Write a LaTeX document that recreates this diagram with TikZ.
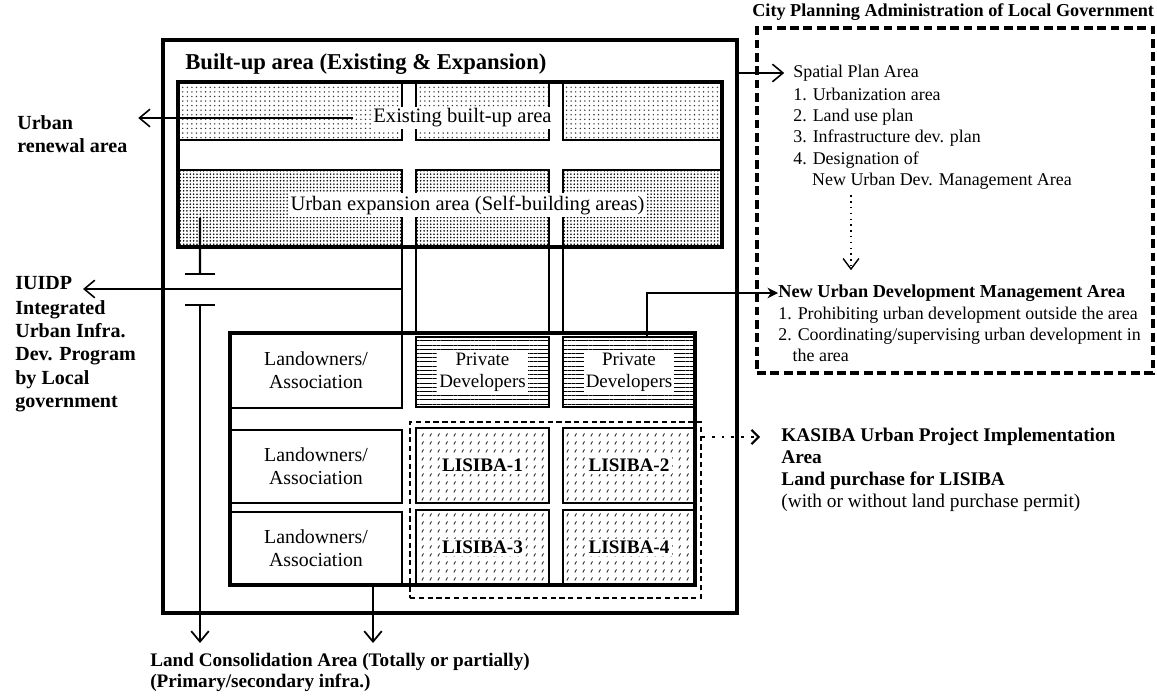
\documentclass[tikz,border=0pt]{standalone}
\usepackage{fontspec}
\setmainfont{Liberation Serif}
\usepackage{tikz}
\usetikzlibrary{arrows.meta, positioning, patterns.meta}

\tikzdeclarepattern{
  name=ticks,
  type=uncolored,
  bottom left={(0pt,0pt)},
  top right={(4.6pt,4.6pt)},
  tile size={(4.6pt,4.6pt)},
  code={\draw[line width=.6pt] (1.2pt,1pt) -- (2.2pt,2.9pt);}
}

\begin{document}
\begin{tikzpicture}[
  frame/.style={draw, line width=1.9pt, inner sep=0pt, outer sep=0pt},
  blk/.style={draw, line width=1.1pt, inner sep=0pt, outer sep=0pt},
  cell/.style={draw, line width=.9pt, inner sep=0pt, outer sep=0pt},
  road/.style={line width=1.4pt},
  oldarea/.style={blk, pattern={Dots[distance=2.6pt,radius=.45pt]}, pattern color=black!80},
  newarea/.style={blk, pattern={Dots[distance=1.9pt,radius=.5pt]}},
  devarea/.style={cell, pattern={Lines[distance=2.4pt,line width=.45pt]}},
  lisarea/.style={cell, pattern=ticks, pattern color=black!80},
  plate/.style={fill=white, inner sep=1.2pt, align=center, font=\fontsize{11.7}{13}\selectfont},
  lbl/.style={inner sep=0pt, align=left, font=\fontsize{11.4}{13.3}\selectfont\bfseries},
  txt/.style={inner sep=0pt, align=left, font=\fontsize{10.2}{12.2}\selectfont},
  arr/.style={-{Straight Barb[length=6pt,width=10pt,line width=.9pt]}, line width=.8pt},
  dn/.style={road, -{Straight Barb[length=6pt,width=10pt,line width=1pt]}}
]
\useasboundingbox (0,0) rectangle (23.14,13.9);

\node[frame, minimum width=11.48cm, minimum height=11.46cm] (builtup) at (9.0,7.37) {};
\node[lbl, font=\fontsize{12.9}{15}\selectfont\bfseries, anchor=west] (builtttl) at (3.70,12.62) {Built-up area (Existing \& Expansion)};

\foreach \n/\x/\w in {1/5.80/4.48, 2/9.65/2.66, 3/12.85/3.18}{
  \node[oldarea, minimum width=\w cm, minimum height=1.16cm] (old\n) at (\x,11.68) {};
  \node[newarea, minimum width=\w cm, minimum height=1.54cm] (new\n) at (\x,9.73) {};
}
\node[frame, minimum width=10.88cm, minimum height=3.30cm] (upper) at (9.0,10.61) {};

\foreach \x in {8.04,8.32,10.98,11.26}
  \draw[road] (\x,8.96) -- (\x,7.24);

\foreach \n/\y/\h in {1/6.49/1.50, 2/4.57/1.46, 3/2.93/1.46}
  \node[cell, minimum width=3.44cm, minimum height=\h cm, align=center, font=\fontsize{11.3}{13}\selectfont] (own\n) at (6.32,\y) {Landowners/\\Association};

\node[devarea, minimum width=2.65cm, minimum height=1.40cm] (priv1) at (9.65,6.46) {};
\node[devarea, minimum width=2.65cm, minimum height=1.40cm] (priv2) at (12.58,6.46) {};
\foreach \n/\x/\y in {1/9.65/4.59, 2/12.58/4.59, 3/9.65/2.95, 4/12.58/2.95}
  \node[lisarea, minimum width=2.65cm, minimum height=1.50cm] (lis\n) at (\x,\y) {};
\node[frame, minimum width=9.30cm, minimum height=5.04cm] (lower) at (9.25,4.72) {};
\node[draw, line width=1pt, dash pattern=on 3pt off 2pt, minimum width=5.82cm, minimum height=3.52cm, inner sep=0pt] (lisiba) at (11.11,3.70) {};

\node[plate] (exist) at (9.25,11.54) {Existing built-up area};
\node[plate] (expand) at (9.35,9.80) {Urban expansion area (Self-building areas)};
\foreach \n in {1,2}
  \node[plate, font=\fontsize{10.8}{12.5}\selectfont] at (priv\n) {Private\\Developers};
\foreach \n in {1,...,4}
  \node[plate, font=\fontsize{10.9}{12}\selectfont\bfseries] at (lis\n) {LISIBA-\n};

\node[lbl, font=\fontsize{10.35}{12}\selectfont\bfseries, anchor=west] (cityttl) at (15.04,13.66) {City Planning Administration of Local Government};
\node[draw, line width=1.8pt, dash pattern=on 5pt off 2.6pt, minimum width=7.92cm, minimum height=6.90cm, inner sep=0pt] (cityplan) at (19.10,9.89) {};

\node[txt, anchor=west] (spatial) at (15.86,12.44) {Spatial Plan Area};
\node[txt, below right=3.3pt and 0pt of spatial.south west] (spatlist) {1. Urbanization area\\2. Land use plan\\3. Infrastructure dev. plan\\4. Designation of\\\hspace*{1.05em}New Urban Dev. Management Area};
\node[lbl, font=\fontsize{10.4}{12}\selectfont\bfseries, anchor=west] (nudma) at (15.56,8.04) {New Urban Development Management Area};
\node[txt, font=\fontsize{10.2}{11.9}\selectfont, below right=2.7pt and 0pt of nudma.south west] (nudmalist) {1. Prohibiting urban development outside the area\\2. Coordinating/supervising urban development in\\\hspace*{0.8em}the area};

\node[lbl, font=\fontsize{11}{12.5}\selectfont\bfseries, anchor=west] (kasiba) at (15.62,5.16) {KASIBA Urban Project Implementation};
\node[lbl, font=\fontsize{11}{12.5}\selectfont, below right=2.5pt and 0pt of kasiba.south west] (kasibasub) {\textbf{Area}\\\textbf{Land purchase for LISIBA}\\(with or without land purchase permit)};

\node[lbl, anchor=north west] (renewal) at (0.34,11.60) {Urban\\renewal area};
\node[lbl, anchor=west] (iuidp) at (0.30,8.24) {IUIDP};
\node[lbl, below right=5.6pt and 0pt of iuidp.south west] (iuidpsub) {Integrated\\Urban Infra.\\Dev. Program\\by Local\\government};
\node[lbl, font=\fontsize{10.9}{12}\selectfont\bfseries, anchor=north west] (landcons) at (3.0,0.84) {Land Consolidation Area (Totally or partially)\\(Primary/secondary infra.)};

\coordinate (roadjoin) at (8.04,8.12);
\coordinate (cutA) at (4.0,8.40);
\coordinate (cutB) at (4.0,7.82);
\coordinate (arrA) at (4.0,1.04);
\coordinate (arrB) at (7.46,1.04);

\draw[arr, shorten >=6pt] ([xshift=-0.35cm]exist.west) -- (exist.west -| renewal.east);
\draw[arr, shorten >=6pt] (roadjoin) -- (roadjoin -| iuidp.east);
\draw[arr, shorten >=5pt] (spatial.west -| builtup.east) -- (spatial.west);
\draw[line width=.9pt, dash pattern=on .9pt off 2.4pt, -{Straight Barb[length=6pt,width=9pt,line width=.8pt]}] ([xshift=1.16cm,yshift=-3pt]spatlist.south west) -- ([xshift=1.46cm,yshift=8pt]nudma.north west);
\draw[-{Stealth[length=6pt,width=6pt]}, line width=.8pt] ([xshift=0.36cm]priv2.north) |- (nudma.west);
\draw[line width=1.6pt, dash pattern=on 1.6pt off 4pt, -{Straight Barb[length=4pt,width=8pt,line width=1.2pt]}, shorten >=0.42cm] (lisiba.east |- kasiba.west) -- (kasiba.west);

\draw[road, -{Bar[width=17pt]}] ([shift={(0.44,0.58)}]new1.south west) -- (cutA);
\draw[road, {Bar[width=17pt]}-{Straight Barb[length=6pt,width=10pt,line width=1pt]}] (cutB) -- (arrA);
\draw[dn] (own3.south -| arrB) -- (arrB);
\end{tikzpicture}
\end{document}
